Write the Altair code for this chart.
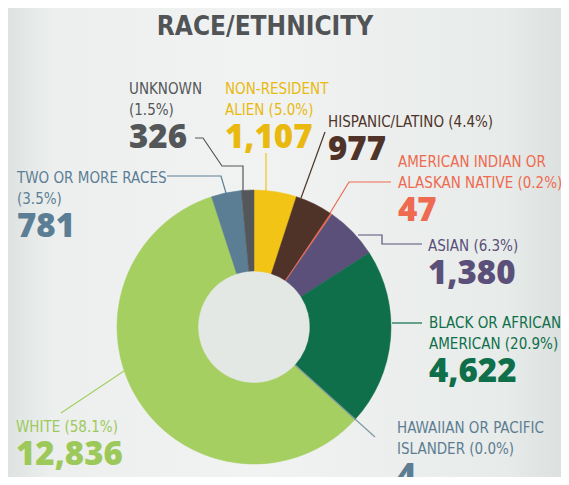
import altair as alt
import pandas as pd

# ---------------- data ----------------
categories = ["Non-Resident Alien", "Hispanic/Latino", "American Indian or Alaskan Native",
              "Asian", "Black or African American", "Hawaiian or Pacific Islander",
              "White", "Two or More Races", "Unknown"]
counts = [1107, 977, 47, 1380, 4622, 4, 12836, 781, 326]
percents = ["5.0%", "4.4%", "0.2%", "6.3%", "20.9%", "0.0%", "58.1%", "3.5%", "1.5%"]
label_lines = [
    ["NON-RESIDENT", "ALIEN ({p})"],
    ["HISPANIC/LATINO ({p})"],
    ["AMERICAN INDIAN OR", "ALASKAN NATIVE ({p})"],
    ["ASIAN ({p})"],
    ["BLACK OR AFRICAN", "AMERICAN ({p})"],
    ["HAWAIIAN OR PACIFIC", "ISLANDER ({p})"],
    ["WHITE ({p})"],
    ["TWO OR MORE RACES", "({p})"],
    ["UNKNOWN", "({p})"],
]
title_text = "RACE/ETHNICITY"

# ---------------- style ----------------
slice_colors = ["#F2C416", "#4F3328", "#EE6A50", "#5B5079", "#0E6F4A",
                "#6E8C96", "#A5CF60", "#5C7E95", "#545759"]
text_colors = ["#E9B910", "#4F3328", "#EE6A50", "#5B5079", "#0E6F4A",
               "#5E7D93", "#9DC95A", "#5C7E95", "#545759"]
leader_colors = ["#F2C416", "#4F3328", "#EE6A50", "#5B5079", "#0E6F4A",
                 "#7E9AA0", "#A5CF60", "#5C7E95", "#545759"]

# ---------------- layout (reference page coordinates) ----------------
PAGE = 8
W, H = 553, 469
CX, CY = 254 - PAGE, 327 - PAGE
R_OUT, R_IN = 137, 56
label_pos = [(225, 94), (328, 127), (398, 167), (428, 251), (429, 328),
             (397, 433), (16, 432), (17, 183), (129, 94)]
LINE_GAP = 21
NUM_GAP = 33
leaders = [
    [(266, 153), (266, 192)],
    [(325, 132), (301, 198)],
    [(391, 182), (349, 182), (330, 213)],
    [(358, 235), (382, 235), (382, 244), (422, 244)],
    [(392, 323), (422, 323)],
    [(295, 365), (375, 437)],
    [(124, 371), (61, 413)],
    [(167, 176), (221, 176), (226, 193)],
    [(195, 138), (203, 138), (222, 166), (243, 166), (243, 192)],
]

LABEL_FONT = "DejaVu Sans Condensed"
NUM_FONT = "Open Sans"

# ---------------- tables ----------------
pie_df = pd.DataFrame({
    "category": categories,
    "count": counts,
    "idx": list(range(len(categories))),
    "color": slice_colors,
})

lab_rows, num_rows = [], []
for i, lines in enumerate(label_lines):
    lx, ly = label_pos[i]
    for j, ln in enumerate(lines):
        lab_rows.append({"text": ln.format(p=percents[i]), "x": lx - PAGE,
                         "y": ly - PAGE + j * LINE_GAP, "color": text_colors[i]})
    num_rows.append({"text": f"{counts[i]:,}", "x": lx - PAGE,
                     "y": ly - PAGE + (len(lines) - 1) * LINE_GAP + NUM_GAP,
                     "color": text_colors[i]})
lab_df = pd.DataFrame(lab_rows)
num_df = pd.DataFrame(num_rows)

lead_rows = []
for i, pts in enumerate(leaders):
    for k, (px, py) in enumerate(pts):
        lead_rows.append({"g": i, "k": k, "x": px - PAGE, "y": py - PAGE,
                          "color": leader_colors[i]})
lead_df = pd.DataFrame(lead_rows)

title_df = pd.DataFrame([{"text": title_text, "x": 265 - PAGE, "y": 35 - PAGE}])
one = pd.DataFrame([{"a": 0}])

X = alt.X("x:Q", scale=alt.Scale(domain=[0, W], range=[0, W], nice=False, zero=False), axis=None)
Y = alt.Y("y:Q", scale=alt.Scale(domain=[0, H], range=[0, H], nice=False, zero=False), axis=None)
C = alt.Color("color:N", scale=None)

bg = alt.Chart(one).mark_rect(
    color={"gradient": "linear", "x1": 0, "y1": 0, "x2": 1, "y2": 0,
           "stops": [{"offset": 0, "color": "#DEE3E1"},
                     {"offset": 0.08, "color": "#ECEFEE"},
                     {"offset": 0.45, "color": "#F1F3F2"},
                     {"offset": 0.9, "color": "#E7EBE9"},
                     {"offset": 1, "color": "#DCE1DF"}]}
).encode(x=alt.value(0), x2=alt.value(W), y=alt.value(0), y2=alt.value(H))

# Vega circle symbol: radius = sqrt(size) / 2
hole = alt.Chart(one).mark_circle(size=(2 * R_IN + 1) ** 2, color="#E4E8E5", opacity=1).encode(
    x=alt.value(CX), y=alt.value(CY))

arcs = alt.Chart(pie_df).mark_arc(radius=R_OUT, innerRadius=R_IN, strokeWidth=0.5).encode(
    theta=alt.Theta("count:Q", stack=True),
    order=alt.Order("idx:Q"),
    color=C,
    stroke=alt.Stroke("color:N", scale=None),
    x=alt.value(CX), y=alt.value(CY),
)

lines = alt.Chart(lead_df).mark_line(strokeWidth=1.2).encode(
    x=X, y=Y, detail="g:N", order="k:Q", color=C)

labels = alt.Chart(lab_df).mark_text(
    align="left", baseline="alphabetic", font=LABEL_FONT, fontSize=15, fontWeight="normal"
).encode(x=X, y=Y, text="text:N", color=C)

numbers = alt.Chart(num_df).mark_text(
    align="left", baseline="alphabetic", font=NUM_FONT, fontSize=33, fontWeight=800
).encode(x=X, y=Y, text="text:N", color=C)

title = alt.Chart(title_df).mark_text(
    align="center", baseline="alphabetic", font=LABEL_FONT, fontSize=26, fontWeight="bold",
    color="#515456"
).encode(x=X, y=Y, text="text:N")

chart = alt.layer(bg, hole, arcs, lines, labels, numbers, title).properties(
    width=W, height=H, padding=0, autosize="none", background="#EEF0EF"
).configure_view(stroke=None)

chart.save("out.html", embed_options={"renderer": "svg", "actions": False})
